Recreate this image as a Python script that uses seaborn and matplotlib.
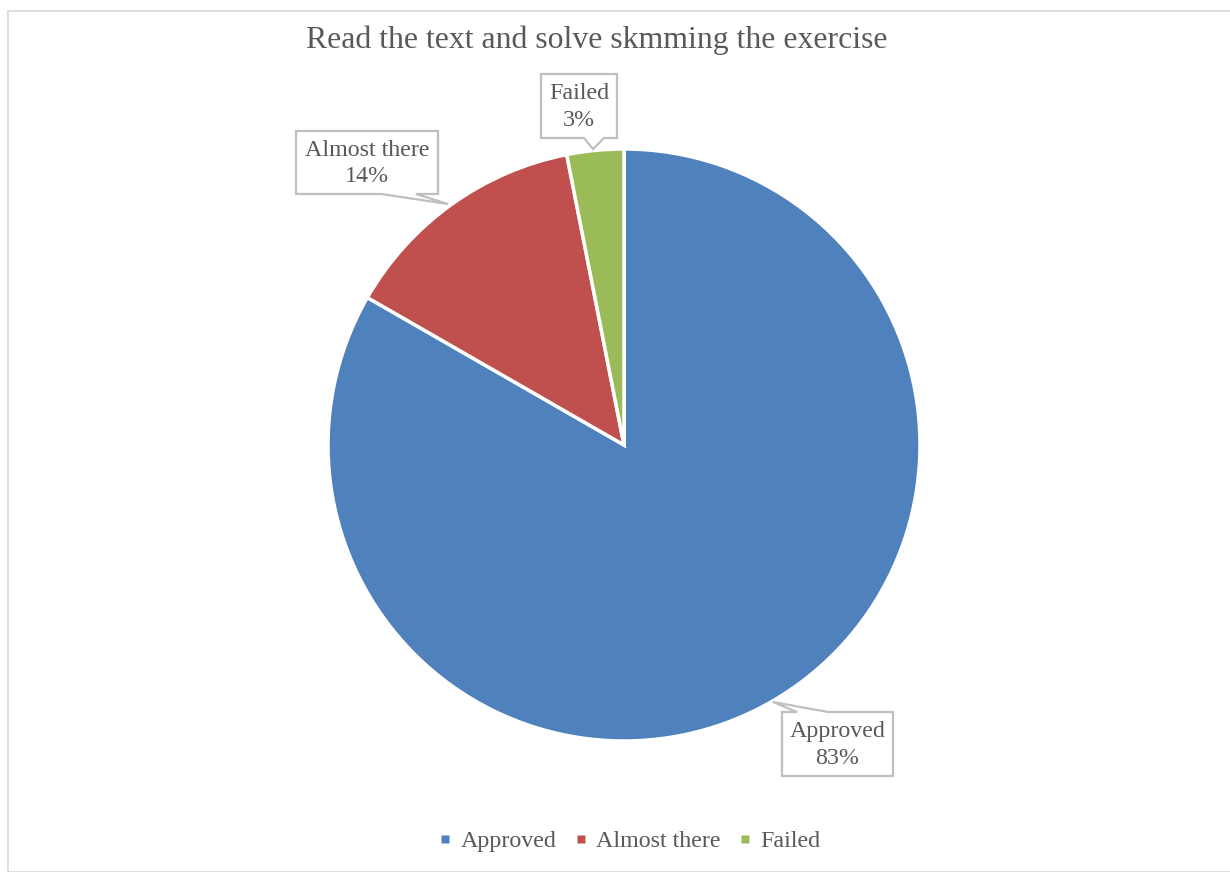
import matplotlib
matplotlib.use("Agg")
import matplotlib.pyplot as plt
from matplotlib.patches import Rectangle, Polygon
from matplotlib.lines import Line2D
import seaborn as sns

categories = ["Approved", "Almost there", "Failed"]
values = [83.3, 13.6, 3.1]
pct_labels = ["83%", "14%", "3%"]
colors = ["#4F81BD", "#C0504D", "#9BBB59"]
title = "Read the text and solve skmming the exercise"

sns.set_theme(style="white")
plt.rcParams['font.family'] = ['Liberation Serif', 'DejaVu Serif']
txt = "#595959"
box_ec = "#BFBFBF"

W, H = 1230, 872
fig = plt.figure(figsize=(W / 100, H / 100), dpi=100)

# outer chart frame
fig.patches.append(Rectangle((8 / W, 0), 1.2, (H - 11) / H, transform=fig.transFigure,
                             fill=False, edgecolor="#D9D9D9", linewidth=1.2))

cx, cy, R = 624, 445, 296
half = 320
ax = fig.add_axes([(cx - half) / W, (H - cy - half) / H, 2 * half / W, 2 * half / H])
lim = half / R

ax.pie(values, colors=colors, startangle=90, counterclock=False, radius=1.0,
       wedgeprops=dict(edgecolor="white", linewidth=2.5))
ax.set_xlim(-lim, lim)
ax.set_ylim(-lim, lim)
ax.set_aspect("equal")
ax.axis("off")


def p2d(px, py):
    return ((px - cx) / R, (cy - py) / R)


# callout layout in pixels: box (x0, y0, x1, y1), pointer base edge, base x-range, tip
callouts = {
    "Approved": dict(box=(782, 712, 893, 776), edge="top", base=(797, 828), tip=(773, 702)),
    "Almost there": dict(box=(296, 131, 438, 194), edge="bottom", base=(381, 416), tip=(448, 204)),
    "Failed": dict(box=(541, 74, 617, 138), edge="bottom", base=(584, 604), tip=(593, 149)),
}

for cat, pl in zip(categories, pct_labels):
    c = callouts[cat]
    x0, y0, x1, y1 = c["box"]
    b1, b2 = c["base"]
    if c["edge"] == "bottom":
        pts = [(x0, y0), (x1, y0), (x1, y1), (b2, y1), c["tip"], (b1, y1), (x0, y1)]
    else:
        pts = [(x0, y0), (b1, y0), c["tip"], (b2, y0), (x1, y0), (x1, y1), (x0, y1)]
    poly = Polygon([p2d(*p) for p in pts], closed=True, fc="white", ec=box_ec, lw=1.6,
                   zorder=5, clip_on=False)
    ax.add_patch(poly)
    tx, ty = p2d((x0 + x1) / 2, (y0 + y1) / 2 + 1)
    ax.text(tx, ty, f"{cat}\n{pl}", ha="center", va="center", fontsize=17.3, color=txt,
            linespacing=1.35, zorder=6)

fig.text(597 / W, 1 - 40 / H, title, ha="center", va="center", fontsize=22.9, color=txt)

handles = [Line2D([0], [0], marker="s", linestyle="none", markersize=5.2,
                  markerfacecolor=c, markeredgecolor="none") for c in colors]
fig.legend(handles, categories, loc="center", bbox_to_anchor=(630 / W, 1 - 841 / H),
           ncol=3, frameon=False, fontsize=17.3, labelcolor=txt,
           handlelength=0.5, handletextpad=0.4, columnspacing=0.75)

fig.savefig("out.png", dpi=100, facecolor="white")
